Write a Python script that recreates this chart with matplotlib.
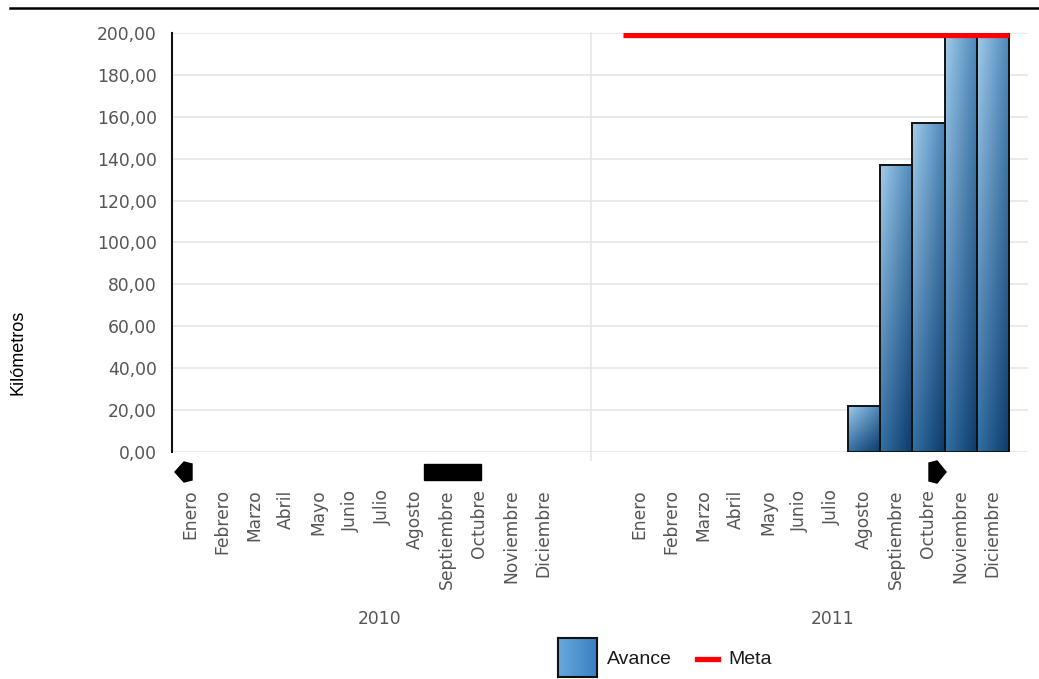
import numpy as np
import matplotlib
matplotlib.use("Agg")
import matplotlib.pyplot as plt
import matplotlib.transforms as mtransforms
from matplotlib.patches import Polygon, Rectangle
from matplotlib.colors import to_rgb

plt.rcParams["font.family"] = ["DejaVu Sans"]

# ---------------- data ----------------
months = ["Enero", "Febrero", "Marzo", "Abril", "Mayo", "Junio", "Julio",
          "Agosto", "Septiembre", "Octubre", "Noviembre", "Diciembre"]
years = ["2010", "2011"]
avance_2010 = [0, 0, 0, 0, 0, 0, 0, 0, 0, 0, 0, 0]
avance_2011 = [0, 0, 0, 0, 0, 0, 0, 22, 137, 157, 200, 200]
meta_2011 = [199] * 12
yticks = [0, 20, 40, 60, 80, 100, 120, 140, 160, 180, 200]

# ---------------- layout ----------------
W, H = 1039, 679
fig = plt.figure(figsize=(W / 100, H / 100), dpi=100)
fig.patch.set_facecolor("white")

ax = fig.add_axes([172 / W, 1 - 452 / H, (1028 - 172) / W, (452 - 33) / H])
ax.set_facecolor("white")

gap = 2
x2010 = np.arange(12)
x2011 = np.arange(12) + 12 + gap
xs = np.concatenate([x2010, x2011])
vals = avance_2010 + avance_2011

# grid
for t in yticks:
    ax.axhline(t, color="#e6e6e6", lw=1.2, zorder=0)
ax.plot([12.5, 12.5], [-4, 200], color="#e6e6e6", lw=1.2, zorder=0, clip_on=False)

# bars with 2D gradient (top-left light, bottom-right dark)
tl, tr_, bl, br = [np.array(to_rgb(c)) for c in ("#a2cbea", "#4c86b8", "#3470a3", "#0b3b6a")]
n = 48
u = np.linspace(0, 1, n)[None, :, None]      # left -> right
v = np.linspace(0, 1, n)[:, None, None]      # top -> bottom
img = (1 - v) * ((1 - u) * tl + u * tr_) + v * ((1 - u) * bl + u * br)

bars = ax.bar(xs, vals, width=1.0, facecolor="none", edgecolor="#111111",
              linewidth=1.4, zorder=3)
for b in bars:
    h = b.get_height()
    if h <= 0:
        b.set_visible(False)
        continue
    x0 = b.get_x()
    w = b.get_width()
    im = ax.imshow(img, aspect="auto", extent=(x0, x0 + w, 0, h),
                   origin="upper", zorder=2, interpolation="bilinear")
    im.set_clip_path(b)
ax.set_xlim(-0.56, 26.1)
ax.set_ylim(0, 200)

# meta line
ax.stairs(meta_2011, np.append(x2011 - 0.5, x2011[-1] + 0.5), baseline=None,
          color="#ff0000", lw=3.8, zorder=5)

# axes styling
for s in ["top", "right", "bottom"]:
    ax.spines[s].set_visible(False)
ax.spines["left"].set_color("#111111")
ax.spines["left"].set_linewidth(1.5)
ax.set_yticks(yticks)
ax.set_yticklabels([f"{v:.2f}".replace(".", ",") for v in yticks])
ax.tick_params(axis="y", length=0, pad=11, labelsize=12.3, labelcolor="#555555")
ax.set_xticks(xs)
ax.set_xticklabels(months + months, rotation=90, va="top")
ax.tick_params(axis="x", length=0, pad=27, labelsize=12.3, labelcolor="#555555")

# year labels
trf = mtransforms.blended_transform_factory(ax.transData, fig.transFigure)
ax.text(5.9, 1 - 619 / H, years[0], transform=trf, ha="center", va="center",
        fontsize=12.3, color="#555555")
ax.text(20.0, 1 - 619 / H, years[1], transform=trf, ha="center", va="center",
        fontsize=12.3, color="#555555")

# y label
fig.text(18 / W, 1 - 352 / H, "Kilómetros", rotation=90, ha="center", va="center",
         fontsize=13, color="black", family="Liberation Sans")

# top rule
fig.add_artist(plt.Line2D([10 / W, 1], [1 - 8 / H, 1 - 8 / H], color="black",
                          lw=1.8, transform=fig.transFigure))

# scroll markers (decorations)
def px(pts):
    return [(x / W, 1 - y / H) for x, y in pts]

fig.add_artist(Polygon(px([(175, 472), (184, 462), (192, 464), (192, 480), (184, 482)]),
                       closed=True, color="black", transform=fig.transFigure))
fig.add_artist(Rectangle((424 / W, 1 - 480 / H), 57 / W, 16 / H, color="black",
                         transform=fig.transFigure))
fig.add_artist(Polygon(px([(946, 472), (937, 461), (929, 463), (929, 481), (937, 483)]),
                       closed=True, color="black", transform=fig.transFigure))

# legend
lax = fig.add_axes([558 / W, 1 - 677 / H, 39 / W, 39 / H])
lg = np.linspace(0, 1, 32)[None, :, None]
lc0, lc1 = np.array(to_rgb("#66a9dc")), np.array(to_rgb("#3b80c2"))
lax.imshow(np.repeat((1 - lg) * lc0 + lg * lc1, 32, axis=0), aspect="auto")
lax.set_xticks([]); lax.set_yticks([])
for s in lax.spines.values():
    s.set_color("#111111"); s.set_linewidth(1.5)
fig.text(607 / W, 1 - 659 / H, "Avance", ha="left", va="center", fontsize=14,
         color="#1a1a1a", family="Liberation Sans")
fig.add_artist(plt.Line2D([697 / W, 718 / W], [1 - 659 / H, 1 - 659 / H],
                          color="#ff0000", lw=3.8, transform=fig.transFigure))
fig.text(728 / W, 1 - 659 / H, "Meta", ha="left", va="center", fontsize=14,
         color="#1a1a1a", family="Liberation Sans")

fig.savefig("out.png", dpi=100, facecolor="white")
